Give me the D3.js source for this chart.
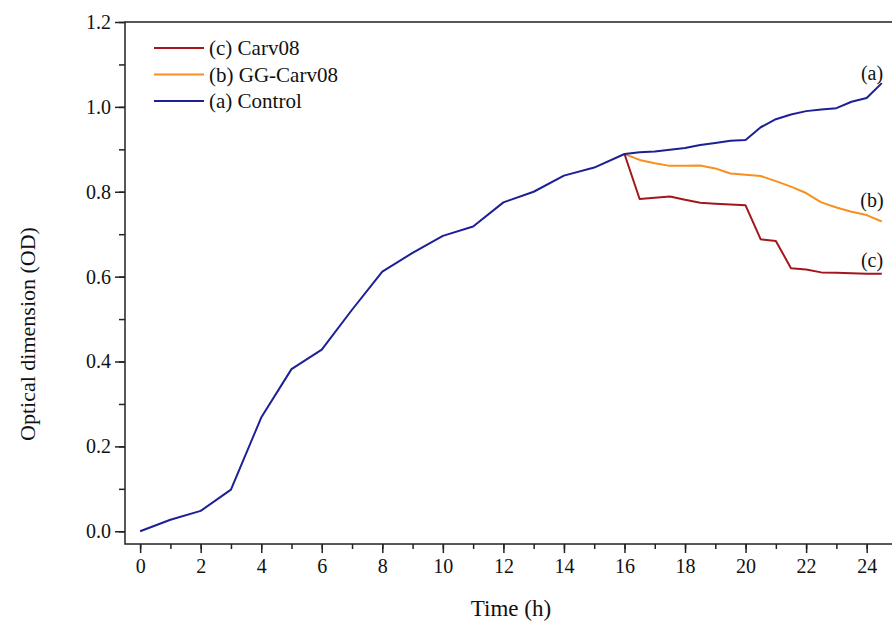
<!DOCTYPE html>
<html>
<head>
<meta charset="utf-8">
<script src="https://cdn.jsdelivr.net/npm/d3@7"></script>
<style>
  html, body { margin: 0; padding: 0; background: #fff; }
  svg { display: block; font-family: "Liberation Serif", "Times New Roman", serif; }
</style>
</head>
<body>
<svg id="chart" width="892" height="624"></svg>
<script>
// Time points (h)
const timeControl = [0, 1, 2, 3, 4, 5, 6, 7, 8, 9, 10, 11, 12, 13, 14, 15, 16,
  16.5, 17, 17.5, 18, 18.5, 19, 19.5, 20, 20.5, 21, 21.5, 22, 22.5, 23, 23.5, 24, 24.5];
const timeTreated = [16, 16.5, 17, 17.5, 18, 18.5, 19, 19.5, 20, 20.5, 21, 21.5, 22, 22.5, 23, 23.5, 24, 24.5];

// OD values
const odControl = [0.0, 0.027, 0.048, 0.098, 0.268, 0.382, 0.428, 0.522, 0.612, 0.656, 0.696, 0.718, 0.775, 0.800, 0.838, 0.857, 0.889,
  0.893, 0.895, 0.899, 0.903, 0.910, 0.915, 0.920, 0.922, 0.952, 0.971, 0.982, 0.990, 0.994, 0.997, 1.012, 1.021, 1.056];
const odGGCarv = [0.889, 0.875, 0.867, 0.861, 0.861, 0.862, 0.855, 0.843, 0.840, 0.837, 0.825, 0.812, 0.797, 0.775, 0.763, 0.753, 0.745, 0.730];
const odCarv = [0.889, 0.783, 0.786, 0.789, 0.781, 0.774, 0.772, 0.770, 0.768, 0.688, 0.684, 0.620, 0.617, 0.610, 0.609, 0.608, 0.607, 0.607];

const xTicks = [0, 2, 4, 6, 8, 10, 12, 14, 16, 18, 20, 22, 24];
const yTicks = [0.0, 0.2, 0.4, 0.6, 0.8, 1.0, 1.2];

const series = [
  { name: "(c) Carv08", tag: "(c)", t: timeTreated, v: odCarv, color: "#a3171b" },
  { name: "(b) GG-Carv08", tag: "(b)", t: timeTreated, v: odGGCarv, color: "#f7901e" },
  { name: "(a) Control", tag: "(a)", t: timeControl, v: odControl, color: "#1d1f96" }
];

const svg = d3.select("#chart");
const plotL = 125, plotR = 893, plotT = 22, plotB = 544;

const x = d3.scaleLinear().domain([-0.5, 24.87]).range([plotL, plotR]);
const y = d3.scaleLinear().domain([-0.03, 1.2]).range([plotB, plotT]);

// frame
svg.append("rect")
  .attr("x", plotL).attr("y", plotT)
  .attr("width", plotR - plotL).attr("height", plotB - plotT)
  .attr("fill", "none").attr("stroke", "#222").attr("stroke-width", 1.5);

// x axis
const xAxis = svg.append("g").attr("transform", `translate(0,${plotB})`);
xAxis.call(d3.axisBottom(x).tickValues(d3.range(0, 25, 1)).tickSize(5).tickFormat(""))
  .call(g => g.select(".domain").remove());
xAxis.append("g").call(d3.axisBottom(x).tickValues(xTicks).tickSize(9).tickPadding(6).tickFormat(d3.format("d")))
  .call(g => g.select(".domain").remove());
xAxis.selectAll("line").attr("stroke", "#222").attr("stroke-width", 1.5);
xAxis.selectAll("text").attr("font-size", 20).attr("fill", "#111")
  .attr("font-family", "Liberation Serif, Times New Roman, serif");

// y axis
const yAxis = svg.append("g").attr("transform", `translate(${plotL},0)`);
yAxis.call(d3.axisLeft(y).tickValues(d3.range(0, 1.21, 0.1)).tickSize(6).tickFormat(""))
  .call(g => g.select(".domain").remove());
yAxis.append("g").call(d3.axisLeft(y).tickValues(yTicks).tickSize(10).tickPadding(4).tickFormat(d3.format(".1f")))
  .call(g => g.select(".domain").remove());
yAxis.selectAll("line").attr("stroke", "#222").attr("stroke-width", 1.5);
yAxis.selectAll("text").attr("font-size", 20).attr("fill", "#111")
  .attr("font-family", "Liberation Serif, Times New Roman, serif");

// axis titles
svg.append("text")
  .attr("x", 511).attr("y", 616)
  .attr("text-anchor", "middle").attr("font-size", 23).attr("fill", "#111")
  .text("Time (h)");
svg.append("text")
  .attr("transform", "translate(35,334) rotate(-90)")
  .attr("text-anchor", "middle").attr("font-size", 22).attr("fill", "#111")
  .text("Optical dimension (OD)");

// lines
const line = d3.line().x(d => x(d[0])).y(d => y(d[1]));
// draw control last so it's on top
[series[1], series[0], series[2]].forEach(s => {
  svg.append("path")
    .datum(s.t.map((t, i) => [t, s.v[i]]))
    .attr("d", line)
    .attr("fill", "none")
    .attr("stroke", s.color)
    .attr("stroke-width", 2)
    .attr("stroke-linejoin", "round");
});

// end labels
const tagY = { "(a)": 80, "(b)": 207, "(c)": 267 };
series.forEach(s => {
  svg.append("text")
    .attr("x", 872).attr("y", tagY[s.tag])
    .attr("text-anchor", "middle").attr("font-size", 20).attr("fill", "#111")
    .text(s.tag);
});

// legend
const legend = svg.append("g");
series.forEach((s, i) => {
  const ly = 48 + i * 26.5;
  legend.append("line")
    .attr("x1", 154).attr("x2", 204).attr("y1", ly).attr("y2", ly)
    .attr("stroke", s.color).attr("stroke-width", 2);
  legend.append("text")
    .attr("x", 209).attr("y", ly + 7)
    .attr("font-size", 21).attr("fill", "#111")
    .text(s.name);
});
</script>
</body>
</html>
